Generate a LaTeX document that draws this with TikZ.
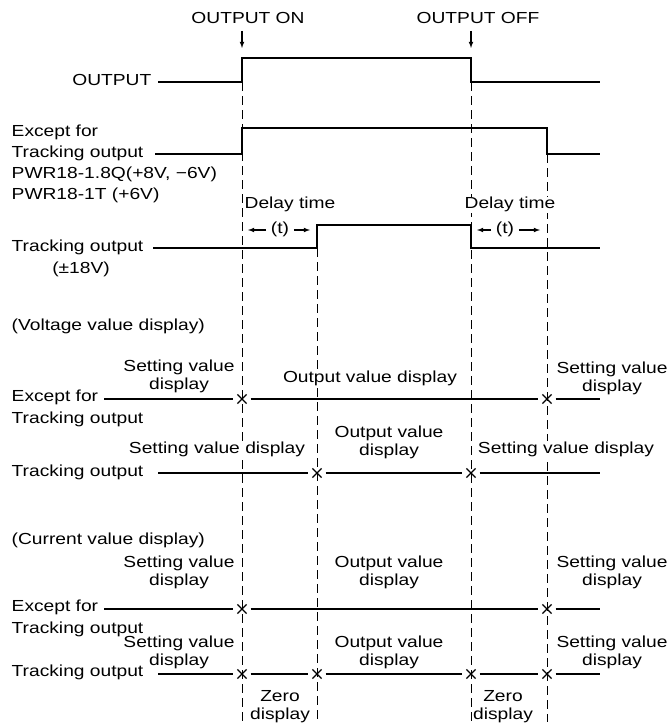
\documentclass[tikz,border=0pt]{standalone}
\usepackage{fontspec}
\setmainfont[FakeStretch=1.2]{Liberation Sans}
\usetikzlibrary{arrows,shapes.misc}

\begin{document}
\begin{tikzpicture}[x=1pt, y=-1pt,
  every node/.style={font=\fontsize{16}{18}\selectfont, inner sep=0.5pt, align=center},
  lbl/.style={text height=11pt, text depth=3.5pt},
  txt/.style={fill=white},
  wave/.style={line width=2.6pt},
  guide/.style={line width=1pt, dash pattern=on 9pt off 5pt},
  xmark/.style={draw, cross out, minimum size=8pt, inner sep=0pt, line width=1.2pt},
  tip/.style={-latex, line width=1.1pt}]
  \useasboundingbox (0,0) rectangle (671,725);

  % timing guides
  \foreach \n/\x/\y in {gOn/242/82, gTr/317/248, gOff/471/82, gEx/547/154}
    \draw[guide] (\x,\y) coordinate (\n) -- (\x,722);

  % events
  \node[lbl] (on) at (248,20) {OUTPUT ON};
  \node[lbl] (off) at (478,20) {OUTPUT OFF};
  \coordinate (onA) at (242,48);
  \coordinate (offA) at (471,48);
  \path[tip]
    ([yshift=-3pt]on.south -| onA) edge (onA)
    ([yshift=-3pt]off.south -| offA) edge (offA);

  % output
  \node[lbl, anchor=east] (out) at (152,82) {OUTPUT};
  \draw[wave] ([xshift=6pt]out.east) -- (242,82) -- (242,58) -- (471,58) -- (471,82) -- (600,82);

  \node[lbl, anchor=west] (ex) at (11,133) {Except for};
  \node[lbl, anchor=west] (extr) at (11,154) {Tracking output};
  \node[lbl, anchor=west] (pq) at (11,175) {PWR18-1.8Q(+8V, −6V)};
  \node[lbl, anchor=west] (pt) at (11,196) {PWR18-1T (+6V)};
  \draw[wave] (155,154) -- (242,154) -- (242,128) -- (547,128) -- (547,154) -- (600,154);

  \node[lbl, anchor=west] (tr) at (11,248) {Tracking output};
  \node[lbl] (trv) at (81,270) {(±18V)};
  \draw[wave] (153,248) -- (317,248) -- (317,225) -- (471,225) -- (471,248) -- (600,248);

  % delay time
  \node[lbl, txt] (d1) at (290,205) {Delay time};
  \node[lbl, txt] (d2) at (510,205) {Delay time};
  \node[lbl] (t1) at (280,230) {(t)};
  \node[lbl] (t2) at (505,230) {(t)};
  \path[tip]
    ([xshift=-4pt]t1.west) edge ([xshift=6pt]gOn |- t1)
    ([xshift=4pt]t1.east) edge ([xshift=-7pt]gTr |- t1)
    ([xshift=-4pt]t2.west) edge ([xshift=6pt]gOff |- t2)
    ([xshift=4pt]t2.east) edge ([xshift=-7pt]gEx |- t2);

  % voltage value display
  \node[lbl, anchor=west] (vd) at (11,327) {(Voltage value display)};
  \node[lbl, anchor=west] (ex4) at (11,398) {Except for};
  \node[lbl, anchor=west] (tr4) at (11,420) {Tracking output};
  \node[xmark] (x41) at (242,399) {};
  \node[xmark] (x42) at (547,399) {};
  \draw[wave] (104,399) -- ([xshift=-4pt]x41.west)
    ([xshift=4pt]x41.east) -- ([xshift=-4pt]x42.west)
    ([xshift=4pt]x42.east) -- (600,399);
  \node (sv4) at (179,376) {Setting value\\display};
  \node[txt] (ov4) at (370,378) {Output value display};
  \node (sr4) at (612,378) {Setting value\\display};

  \node[lbl, anchor=west] (tr5) at (11,473) {Tracking output};
  \node[xmark] (x51) at (317,473) {};
  \node[xmark] (x52) at (471,473) {};
  \draw[wave] (158,473) -- ([xshift=-4pt]x51.west)
    ([xshift=4pt]x51.east) -- ([xshift=-4pt]x52.west)
    ([xshift=4pt]x52.east) -- (600,473);
  \node[txt] (sv5) at (217,449) {Setting value display};
  \node (ov5) at (389,442) {Output value\\display};
  \node[txt] (sr5) at (566,449) {Setting value display};

  % current value display
  \node[lbl, anchor=west] (cd) at (11,541) {(Current value display)};
  \node[lbl, anchor=west] (ex6) at (11,608) {Except for};
  \node[lbl, anchor=west] (tr6) at (11,630) {Tracking output};
  \node[xmark] (x61) at (242,609) {};
  \node[xmark] (x62) at (547,609) {};
  \draw[wave] (104,609) -- ([xshift=-4pt]x61.west)
    ([xshift=4pt]x61.east) -- ([xshift=-4pt]x62.west)
    ([xshift=4pt]x62.east) -- (600,609);
  \node (sv6) at (179,572) {Setting value\\display};
  \node (ov6) at (389,572) {Output value\\display};
  \node (sr6) at (612,572) {Setting value\\display};

  \node[lbl, anchor=west] (tr7) at (11,673) {Tracking output};
  \foreach \i/\x in {1/242, 2/317, 3/471, 4/547}
    \node[xmark] (x7\i) at (\x,674) {};
  \draw[wave] (158,674) -- ([xshift=-4pt]x71.west)
    ([xshift=4pt]x71.east) -- ([xshift=-4pt]x72.west)
    ([xshift=4pt]x72.east) -- ([xshift=-4pt]x73.west)
    ([xshift=4pt]x73.east) -- ([xshift=-4pt]x74.west)
    ([xshift=4pt]x74.east) -- (600,674);
  \node (sv7) at (179,652) {Setting value\\display};
  \node (ov7) at (389,652) {Output value\\display};
  \node (sr7) at (612,652) {Setting value\\display};
  \node (z1) at (280,707) {Zero\\display};
  \node (z2) at (503,707) {Zero\\display};
\end{tikzpicture}
\end{document}
